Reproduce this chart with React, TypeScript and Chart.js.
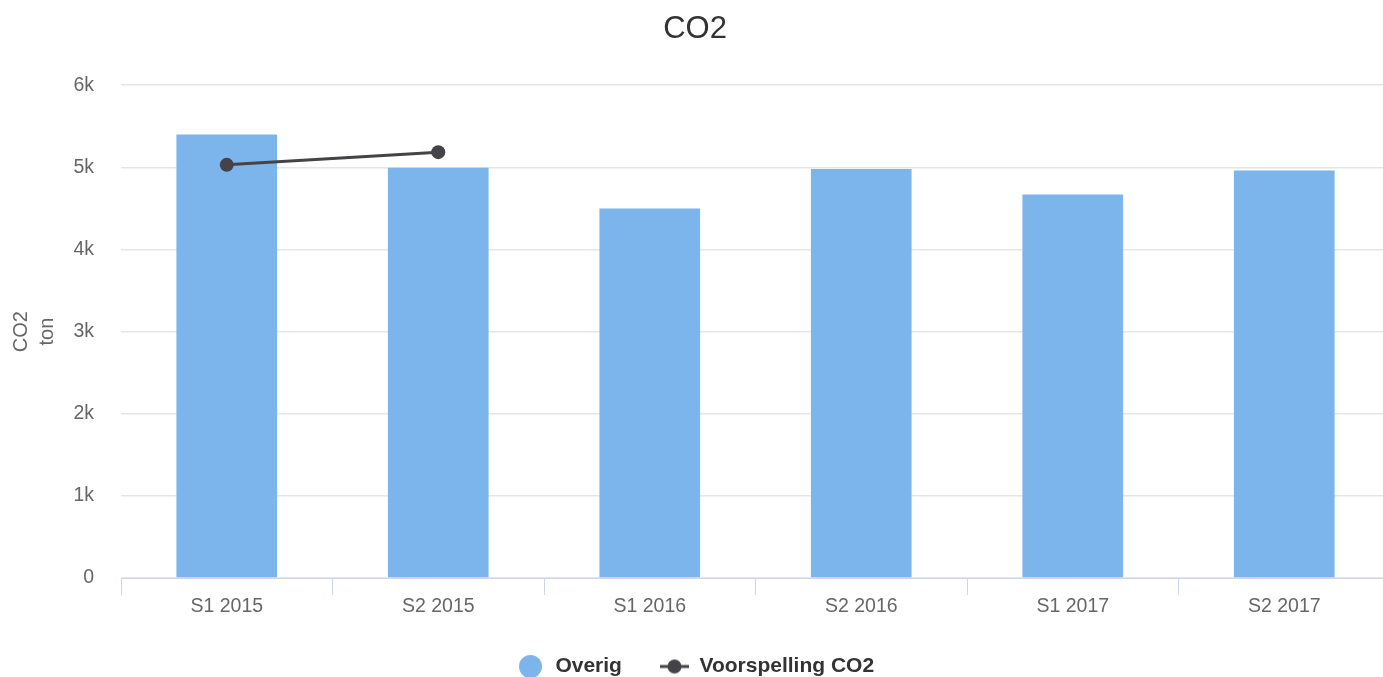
import React, { useEffect, useRef } from "react";
import { Chart, registerables } from "chart.js";

Chart.register(...registerables);

const categories = ["S1 2015", "S2 2015", "S1 2016", "S2 2016", "S1 2017", "S2 2017"];
const overigValues = [5400, 4995, 4500, 4980, 4670, 4960];
const forecastValues: (number | null)[] = [5030, 5185, null, null, null, null];
const yTickValues = [0, 1000, 2000, 3000, 4000, 5000, 6000];
const yTickLabels = ["0", "1k", "2k", "3k", "4k", "5k", "6k"];
const seriesNames = ["Overig", "Voorspelling CO2"];

const FONT = "'Liberation Sans', Helvetica, Arial, sans-serif";
const BAR_COLOR = "#7cb5ec";
const LINE_COLOR = "#434348";

function circleIcon(color: string, size: number) {
  const c = document.createElement("canvas");
  c.width = size;
  c.height = size;
  const ctx = c.getContext("2d")!;
  ctx.fillStyle = color;
  ctx.beginPath();
  ctx.arc(size / 2, size / 2, size / 2, 0, Math.PI * 2);
  ctx.fill();
  return c;
}

function lineIcon(color: string, w: number, h: number) {
  const c = document.createElement("canvas");
  c.width = w;
  c.height = h;
  const ctx = c.getContext("2d")!;
  ctx.strokeStyle = color;
  ctx.lineWidth = 3;
  ctx.beginPath();
  ctx.moveTo(0, h / 2);
  ctx.lineTo(w, h / 2);
  ctx.stroke();
  ctx.fillStyle = color;
  ctx.beginPath();
  ctx.arc(w / 2, h / 2, 7, 0, Math.PI * 2);
  ctx.fill();
  return c;
}

export default function App() {
  const ref = useRef<HTMLCanvasElement>(null);

  useEffect(() => {
    const canvas = ref.current!;
    const circ = circleIcon(BAR_COLOR, 23);
    const lineImg = lineIcon(LINE_COLOR, 29, 16);

    const chart = new Chart(canvas, {
      type: "bar",
      data: {
        labels: categories,
        datasets: [
          {
            type: "bar",
            label: seriesNames[0],
            data: overigValues,
            backgroundColor: BAR_COLOR,
            borderWidth: 0,
            categoryPercentage: 1,
            barPercentage: 0.476,
            order: 1,
          },
          {
            type: "line",
            label: seriesNames[1],
            data: forecastValues,
            borderColor: LINE_COLOR,
            backgroundColor: LINE_COLOR,
            borderWidth: 3,
            pointRadius: 7,
            pointBackgroundColor: LINE_COLOR,
            pointBorderWidth: 0,
            spanGaps: false,
            order: 0,
          } as any,
        ],
      },
      options: {
        animation: false,
        responsive: false,
        maintainAspectRatio: false,
        layout: { autoPadding: false, padding: { left: 0, right: 1, top: 0, bottom: 0 } },
        plugins: {
          tooltip: { enabled: false },
          title: {
            display: true,
            text: "CO2",
            color: "#333333",
            font: { family: FONT, size: 31, weight: "normal" as any, lineHeight: 1.2 },
            padding: { top: 11, bottom: 37 },
          },
          legend: {
            display: true,
            position: "bottom",
            labels: {
              usePointStyle: true,
              pointStyleWidth: 29,
              padding: 38,
              color: "#333333",
              font: { family: FONT, size: 21, weight: "bold" as any },
              generateLabels: () => [
                {
                  text: seriesNames[0],
                  pointStyle: circ as any,
                  fillStyle: BAR_COLOR,
                  strokeStyle: BAR_COLOR,
                  lineWidth: 0,
                  hidden: false,
                  datasetIndex: 0,
                  fontColor: "#333333",
                },
                {
                  text: seriesNames[1],
                  pointStyle: lineImg as any,
                  fillStyle: LINE_COLOR,
                  strokeStyle: LINE_COLOR,
                  lineWidth: 0,
                  hidden: false,
                  datasetIndex: 1,
                  fontColor: "#333333",
                },
              ],
            },
          },
        },
        scales: {
          x: {
            offset: true,
            border: { display: true, color: "#ccd6eb", width: 1 },
            grid: {
              display: true,
              offset: true,
              drawOnChartArea: false,
              drawTicks: true,
              tickLength: 17,
              color: "#ccd6eb",
              lineWidth: 1,
            },
            ticks: {
              color: "#666666",
              padding: 0,
              font: { family: FONT, size: 19.5 },
              maxRotation: 0,
              autoSkip: false,
            },
            afterFit: (scale: any) => {
              scale.height = 40;
              scale.paddingLeft = 0;
              scale.paddingRight = 0;
            },
          },
          y: {
            min: 0,
            max: 6000,
            afterBuildTicks: (scale: any) => {
              scale.ticks = yTickValues.map((v) => ({ value: v }));
            },
            border: { display: false },
            grid: {
              color: "#e6e6e6",
              lineWidth: 1.5,
              drawTicks: false,
            },
            ticks: {
              color: "#666666",
              padding: 27,
              font: { family: FONT, size: 19.5 },
              callback: (v: any) => {
                const i = yTickValues.indexOf(Number(v));
                return i >= 0 ? yTickLabels[i] : "";
              },
            },
            title: {
              display: true,
              text: ["CO2", "ton"],
              color: "#666666",
              font: { family: FONT, size: 20, lineHeight: 1.3 },
              padding: { top: 8, bottom: 0 },
            },
            afterFit: (scale: any) => {
              scale.width = 121;
            },
          },
        },
      },
    });
    return () => chart.destroy();
  }, []);

  return (
    <div
      style={{
        position: "fixed",
        left: 0,
        top: 0,
        width: 1383,
        height: 677,
        overflow: "hidden",
        background: "#ffffff",
      }}
    >
      <canvas
        ref={ref}
        width={1391}
        height={687}
        style={{ position: "absolute", left: 0, top: 0, width: 1391, height: 687 }}
      />
    </div>
  );
}
